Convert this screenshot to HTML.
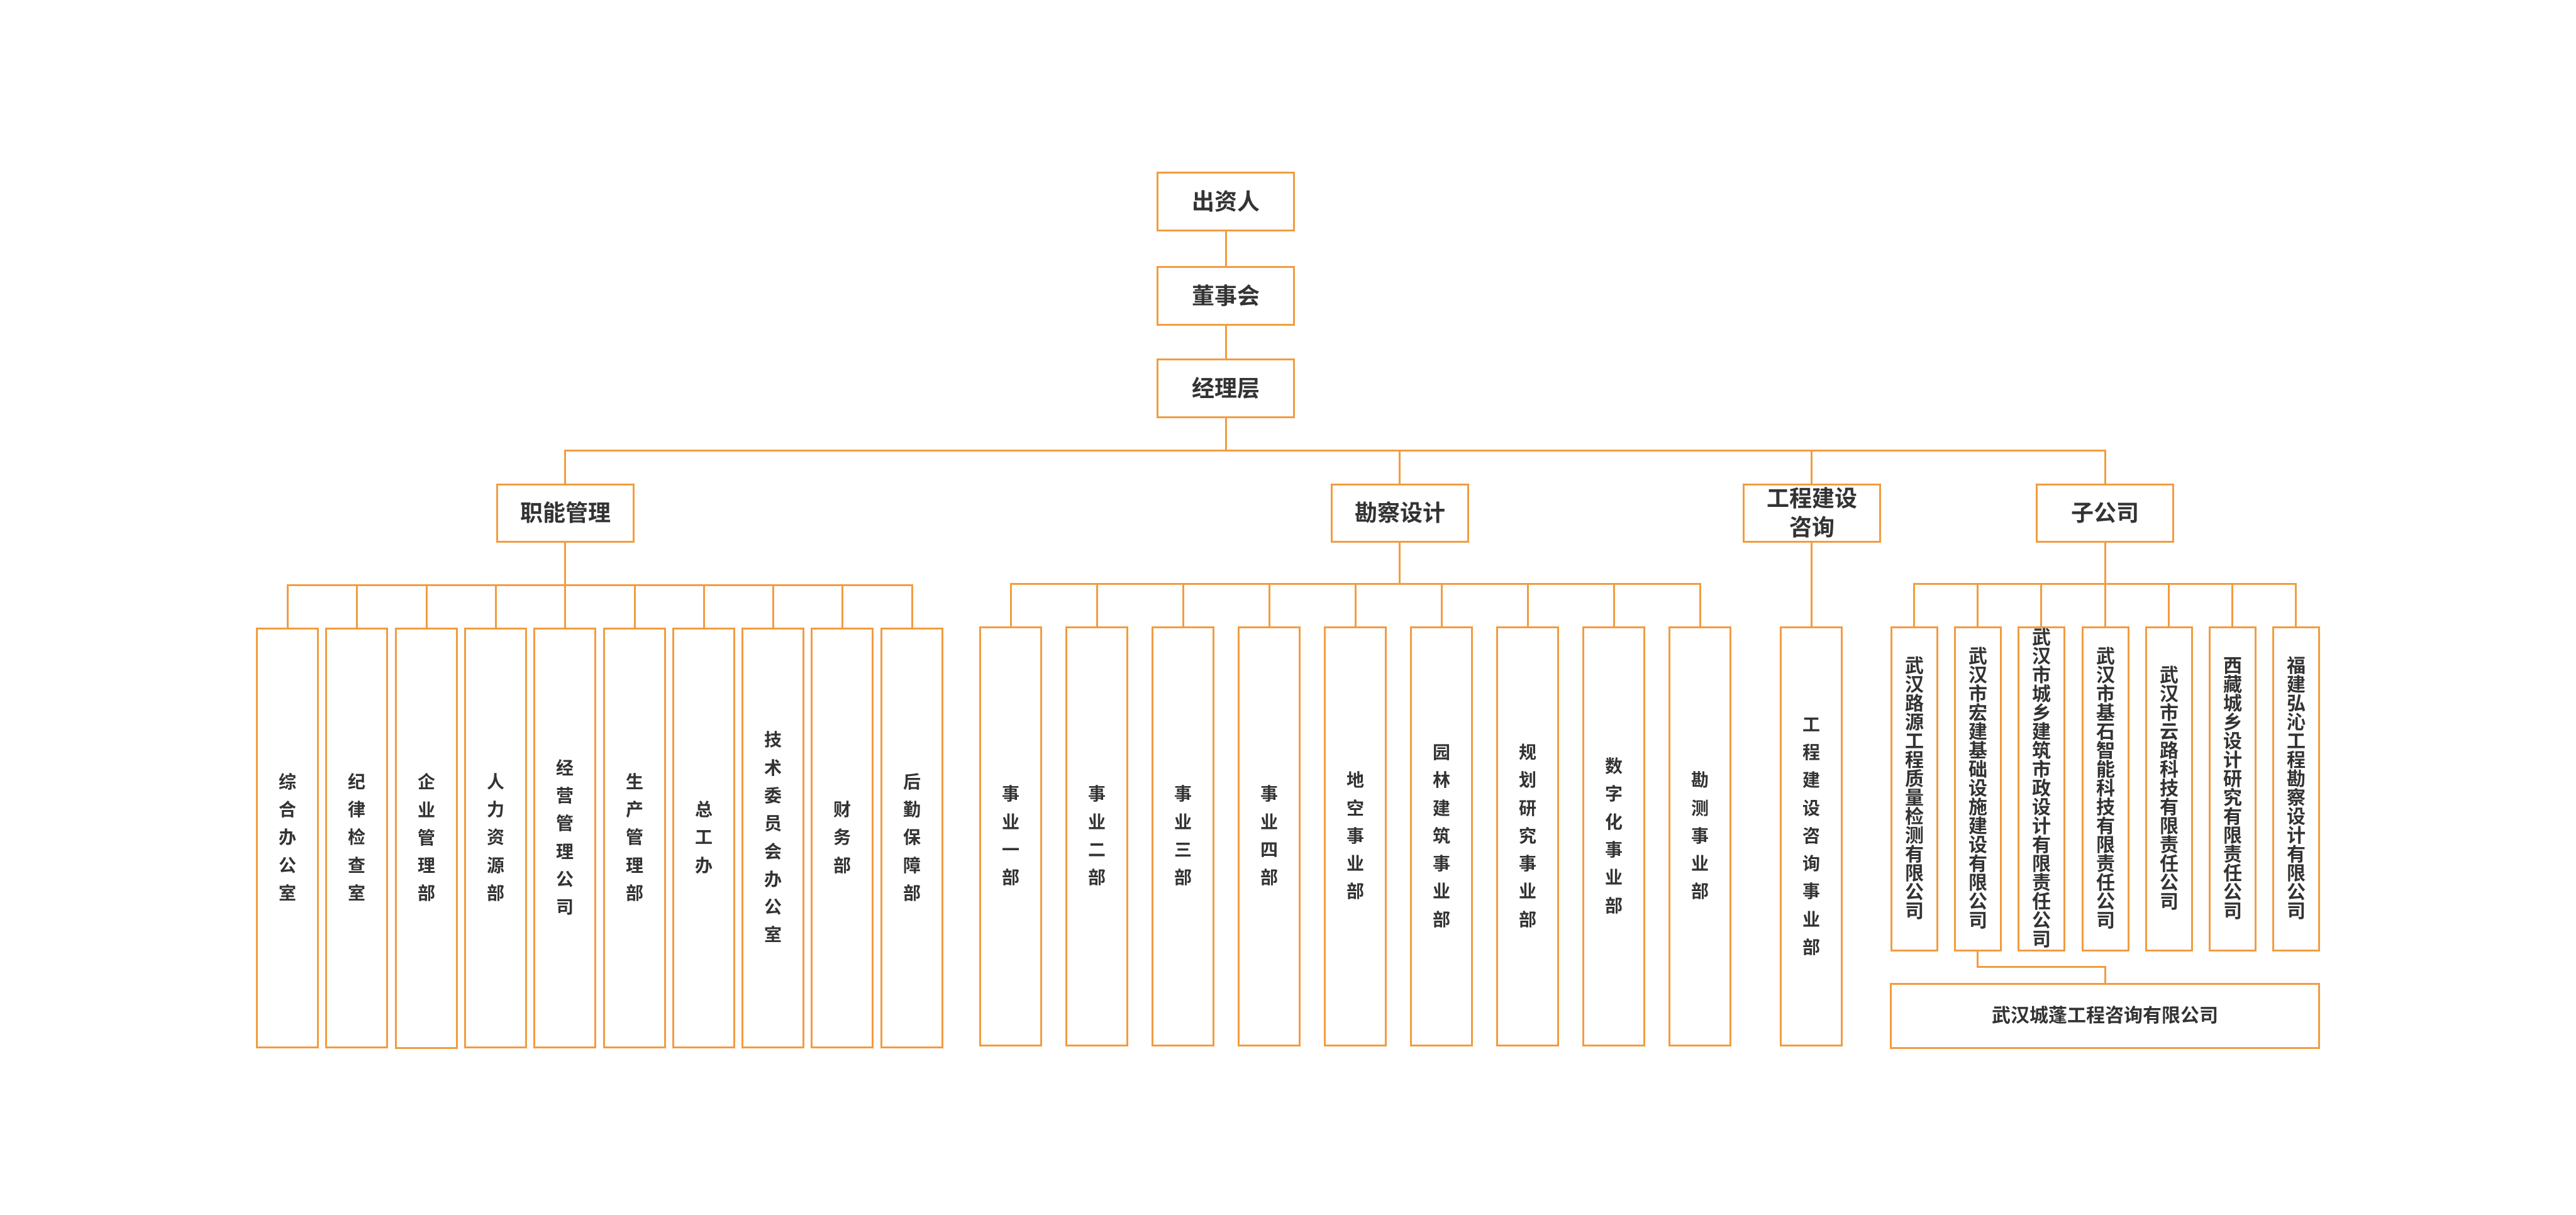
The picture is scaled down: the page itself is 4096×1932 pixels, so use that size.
<!DOCTYPE html>
<html><head><meta charset="utf-8"><style>
html,body{margin:0;padding:0;background:#fff;}
body{width:4096px;height:1932px;position:relative;overflow:hidden;font-family:"Liberation Sans","Noto Sans CJK SC",sans-serif;color:#333;}
.b{position:absolute;box-sizing:border-box;border:3px solid #F29C3F;background:#fff;display:flex;align-items:center;justify-content:center;text-align:center;font-weight:bold;}
.t{font-size:36px;line-height:46px;}
.vt{font-size:28px;line-height:44.3px;}
.rt{font-size:30px;line-height:30px;}
.l{position:absolute;background:#F29C3F;}
</style></head><body>

<!-- top chain -->
<div class="b t" style="left:1839px;top:273px;width:220px;height:95px;">出资人</div>
<div class="b t" style="left:1839px;top:423px;width:220px;height:95px;">董事会</div>
<div class="b t" style="left:1839px;top:570px;width:220px;height:95px;">经理层</div>
<div class="l" style="left:1948px;top:368px;width:3px;height:55px;"></div>
<div class="l" style="left:1948px;top:517px;width:3px;height:53px;"></div>
<div class="l" style="left:1948px;top:664px;width:3px;height:52px;"></div>

<!-- main horizontal -->
<div class="l" style="left:897px;top:715px;width:2452px;height:3px;"></div>
<div class="l" style="left:897px;top:715px;width:3px;height:54px;"></div>
<div class="l" style="left:2224px;top:715px;width:3px;height:54px;"></div>
<div class="l" style="left:2879px;top:715px;width:3px;height:54px;"></div>
<div class="l" style="left:3346px;top:715px;width:3px;height:54px;"></div>

<!-- level 2 -->
<div class="b t" style="left:789px;top:769px;width:220px;height:94px;">职能管理</div>
<div class="b t" style="left:2116px;top:769px;width:220px;height:94px;">勘察设计</div>
<div class="b t" style="left:2771px;top:769px;width:220px;height:94px;">工程建设<br>咨询</div>
<div class="b t" style="left:3237px;top:769px;width:220px;height:94px;">子公司</div>

<!-- left group connectors -->
<div class="l" style="left:897px;top:862px;width:3px;height:68px;"></div>
<div class="l" style="left:456px;top:929px;width:996px;height:3px;"></div>
<div class="l" style="left:456px;top:929px;width:3px;height:69px;"></div>
<div class="l" style="left:566px;top:929px;width:3px;height:69px;"></div>
<div class="l" style="left:677px;top:929px;width:3px;height:69px;"></div>
<div class="l" style="left:787px;top:929px;width:3px;height:69px;"></div>
<div class="l" style="left:897px;top:929px;width:3px;height:69px;"></div>
<div class="l" style="left:1008px;top:929px;width:3px;height:69px;"></div>
<div class="l" style="left:1118px;top:929px;width:3px;height:69px;"></div>
<div class="l" style="left:1228px;top:929px;width:3px;height:69px;"></div>
<div class="l" style="left:1338px;top:929px;width:3px;height:69px;"></div>
<div class="l" style="left:1449px;top:929px;width:3px;height:69px;"></div>

<!-- left group boxes -->
<div class="b vt" style="left:407px;top:998px;width:100px;height:669px;">综<br>合<br>办<br>公<br>室</div>
<div class="b vt" style="left:517px;top:998px;width:100px;height:669px;">纪<br>律<br>检<br>查<br>室</div>
<div class="b vt" style="left:628px;top:998px;width:100px;height:670px;">企<br>业<br>管<br>理<br>部</div>
<div class="b vt" style="left:738px;top:998px;width:100px;height:669px;">人<br>力<br>资<br>源<br>部</div>
<div class="b vt" style="left:848px;top:998px;width:100px;height:669px;">经<br>营<br>管<br>理<br>公<br>司</div>
<div class="b vt" style="left:959px;top:998px;width:100px;height:669px;">生<br>产<br>管<br>理<br>部</div>
<div class="b vt" style="left:1069px;top:998px;width:100px;height:669px;">总<br>工<br>办</div>
<div class="b vt" style="left:1179px;top:998px;width:100px;height:669px;">技<br>术<br>委<br>员<br>会<br>办<br>公<br>室</div>
<div class="b vt" style="left:1289px;top:998px;width:100px;height:669px;">财<br>务<br>部</div>
<div class="b vt" style="left:1400px;top:998px;width:100px;height:669px;">后<br>勤<br>保<br>障<br>部</div>

<!-- middle group connectors -->
<div class="l" style="left:2224px;top:862px;width:3px;height:67px;"></div>
<div class="l" style="left:1606px;top:927px;width:1099px;height:3px;"></div>
<div class="l" style="left:1606px;top:927px;width:3px;height:69px;"></div>
<div class="l" style="left:1743px;top:927px;width:3px;height:69px;"></div>
<div class="l" style="left:1880px;top:927px;width:3px;height:69px;"></div>
<div class="l" style="left:2017px;top:927px;width:3px;height:69px;"></div>
<div class="l" style="left:2154px;top:927px;width:3px;height:69px;"></div>
<div class="l" style="left:2291px;top:927px;width:3px;height:69px;"></div>
<div class="l" style="left:2428px;top:927px;width:3px;height:69px;"></div>
<div class="l" style="left:2565px;top:927px;width:3px;height:69px;"></div>
<div class="l" style="left:2702px;top:927px;width:3px;height:69px;"></div>

<!-- middle group boxes -->
<div class="b vt" style="left:1557px;top:996px;width:100px;height:668px;">事<br>业<br>一<br>部</div>
<div class="b vt" style="left:1694px;top:996px;width:100px;height:668px;">事<br>业<br>二<br>部</div>
<div class="b vt" style="left:1831px;top:996px;width:100px;height:668px;">事<br>业<br>三<br>部</div>
<div class="b vt" style="left:1968px;top:996px;width:100px;height:668px;">事<br>业<br>四<br>部</div>
<div class="b vt" style="left:2105px;top:996px;width:100px;height:668px;">地<br>空<br>事<br>业<br>部</div>
<div class="b vt" style="left:2242px;top:996px;width:100px;height:668px;">园<br>林<br>建<br>筑<br>事<br>业<br>部</div>
<div class="b vt" style="left:2379px;top:996px;width:100px;height:668px;">规<br>划<br>研<br>究<br>事<br>业<br>部</div>
<div class="b vt" style="left:2516px;top:996px;width:100px;height:668px;">数<br>字<br>化<br>事<br>业<br>部</div>
<div class="b vt" style="left:2653px;top:996px;width:100px;height:668px;">勘<br>测<br>事<br>业<br>部</div>

<!-- engineering -->
<div class="l" style="left:2879px;top:862px;width:3px;height:134px;"></div>
<div class="b vt" style="left:2830px;top:996px;width:100px;height:668px;">工<br>程<br>建<br>设<br>咨<br>询<br>事<br>业<br>部</div>

<!-- right group connectors -->
<div class="l" style="left:3346px;top:862px;width:3px;height:66px;"></div>
<div class="l" style="left:3042px;top:927px;width:610px;height:3px;"></div>
<div class="l" style="left:3042px;top:927px;width:3px;height:69px;"></div>
<div class="l" style="left:3143px;top:927px;width:3px;height:69px;"></div>
<div class="l" style="left:3244px;top:927px;width:3px;height:69px;"></div>
<div class="l" style="left:3346px;top:927px;width:3px;height:69px;"></div>
<div class="l" style="left:3447px;top:927px;width:3px;height:69px;"></div>
<div class="l" style="left:3548px;top:927px;width:3px;height:69px;"></div>
<div class="l" style="left:3649px;top:927px;width:3px;height:69px;"></div>

<!-- right group boxes -->
<div class="b rt" style="left:3006px;top:996px;width:76px;height:517px;">武<br>汉<br>路<br>源<br>工<br>程<br>质<br>量<br>检<br>测<br>有<br>限<br>公<br>司</div>
<div class="b rt" style="left:3107px;top:996px;width:76px;height:517px;">武<br>汉<br>市<br>宏<br>建<br>基<br>础<br>设<br>施<br>建<br>设<br>有<br>限<br>公<br>司</div>
<div class="b rt" style="left:3208px;top:996px;width:76px;height:517px;">武<br>汉<br>市<br>城<br>乡<br>建<br>筑<br>市<br>政<br>设<br>计<br>有<br>限<br>责<br>任<br>公<br>司</div>
<div class="b rt" style="left:3310px;top:996px;width:76px;height:517px;">武<br>汉<br>市<br>基<br>石<br>智<br>能<br>科<br>技<br>有<br>限<br>责<br>任<br>公<br>司</div>
<div class="b rt" style="left:3411px;top:996px;width:76px;height:517px;">武<br>汉<br>市<br>云<br>路<br>科<br>技<br>有<br>限<br>责<br>任<br>公<br>司</div>
<div class="b rt" style="left:3512px;top:996px;width:76px;height:517px;">西<br>藏<br>城<br>乡<br>设<br>计<br>研<br>究<br>有<br>限<br>责<br>任<br>公<br>司</div>
<div class="b rt" style="left:3613px;top:996px;width:76px;height:517px;">福<br>建<br>弘<br>沁<br>工<br>程<br>勘<br>察<br>设<br>计<br>有<br>限<br>公<br>司</div>

<!-- sub-sub connector -->
<div class="l" style="left:3143px;top:1512px;width:3px;height:27px;"></div>
<div class="l" style="left:3143px;top:1536px;width:206px;height:3px;"></div>
<div class="l" style="left:3346px;top:1536px;width:3px;height:27px;"></div>
<div class="b rt" style="left:3005px;top:1563px;width:684px;height:105px;">武汉城蓬工程咨询有限公司</div>

</body></html>
